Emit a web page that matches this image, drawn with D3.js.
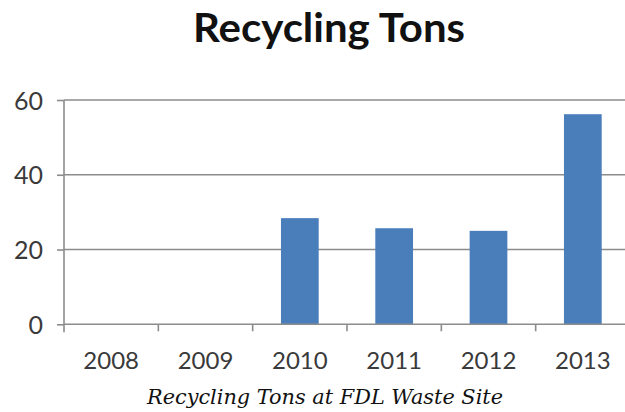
<!DOCTYPE html>
<html lang="en">
<head>
<meta charset="utf-8">
<title>Recycling Tons</title>
<script src="https://d3js.org/d3.v7.min.js"></script>
<style>
  body { margin: 0; background: #fff; }
  .tick text { font-family: Lato, sans-serif; fill: #3a3a3a; }
</style>
</head>
<body>
<script>
// data
var years = ['2008', '2009', '2010', '2011', '2012', '2013'];
var tons = [0, 0, 28.4, 25.7, 25.0, 56.2];
var yTicks = [0, 20, 40, 60];

var width = 625, height = 412;

var svg = d3.select('body').append('svg')
    .attr('width', width)
    .attr('height', height);

// plot runs past the right edge, as in the source image
var x = d3.scaleBand()
    .domain(years)
    .range([64, 630])
    .paddingInner(0.6)
    .paddingOuter(0.3);

var y = d3.scaleLinear()
    .domain([0, 60])
    .range([324.3, 100]);

// horizontal gridlines
svg.append('g')
    .selectAll('line')
    .data(yTicks.slice(1))
    .enter()
    .append('line')
    .attr('x1', 64)
    .attr('x2', width)
    .attr('y1', function (d) { return y(d) })
    .attr('y2', function (d) { return y(d) })
    .attr('stroke', '#8c8c8c')
    .attr('stroke-width', 1.6);

// bars
svg.append('g')
    .selectAll('rect')
    .data(years)
    .enter()
    .append('rect')
    .attr('x', function (d) { return x(d) })
    .attr('width', x.bandwidth())
    .attr('y', function (d, i) { return y(tons[i]) })
    .attr('height', function (d, i) { return y(0) - y(tons[i]) })
    .attr('fill', '#4a7ebb');

// y axis
var yAxis = svg.append('g')
    .attr('transform', 'translate(64,0)')
    .call(d3.axisLeft(y).tickValues(yTicks).tickSize(7).tickPadding(14));
yAxis.select('.domain').attr('stroke', '#8c8c8c').attr('stroke-width', 1.6)
    .attr('d', 'M0,' + y(60) + 'V' + (y(0) + 8));
yAxis.selectAll('.tick line').attr('stroke', '#8c8c8c').attr('stroke-width', 1.6);
yAxis.selectAll('.tick text').style('font-size', '25px').attr('dy', '0.36em');

// x axis: ticks sit on the category boundaries
var xAxis = svg.append('g')
    .attr('transform', 'translate(0,' + y(0) + ')')
    .call(d3.axisBottom(x).tickSize(0).tickPadding(28));
xAxis.select('.domain').attr('stroke', '#8c8c8c').attr('stroke-width', 1.6)
    .attr('d', 'M64,0H' + width);
xAxis.selectAll('.tick text').style('font-size', '24px');
xAxis.selectAll('.bound')
    .data(years.slice(1))
    .enter()
    .append('line')
    .attr('x1', function (d) { return x(d) - x.step() * x.paddingInner() / 2 })
    .attr('x2', function (d) { return x(d) - x.step() * x.paddingInner() / 2 })
    .attr('y1', 0)
    .attr('y2', 7)
    .attr('stroke', '#8c8c8c')
    .attr('stroke-width', 1.6);

// title and caption
svg.append('text')
    .attr('x', 329)
    .attr('y', 42)
    .attr('text-anchor', 'middle')
    .attr('textLength', 272)
    .attr('lengthAdjust', 'spacingAndGlyphs')
    .style('font-family', 'Lato, sans-serif')
    .style('font-weight', 'bold')
    .style('font-size', '41px')
    .style('fill', '#111')
    .text('Recycling Tons');

svg.append('text')
    .attr('x', 325)
    .attr('y', 404)
    .attr('text-anchor', 'middle')
    .attr('textLength', 356)
    .attr('lengthAdjust', 'spacingAndGlyphs')
    .style('font-family', '"DejaVu Serif", serif')
    .style('font-style', 'italic')
    .style('font-size', '21px')
    .style('fill', '#111')
    .text('Recycling Tons at FDL Waste Site');
</script>
</body>
</html>
